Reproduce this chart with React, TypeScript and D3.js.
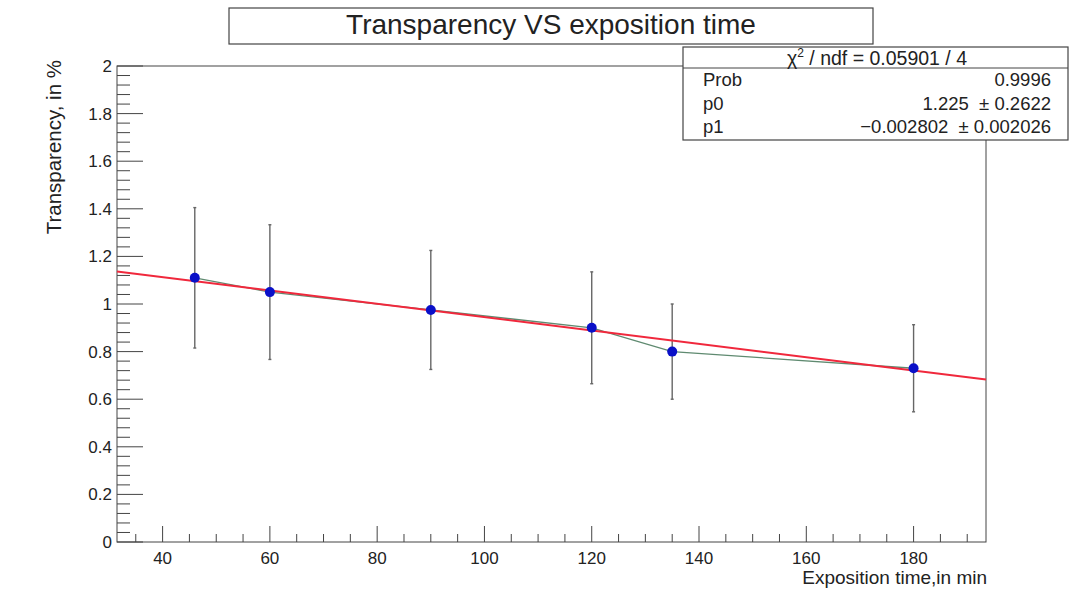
import React from "react";
import * as d3 from "d3";

const W = 1091;
const H = 598;

const expTime = [46, 60, 90, 120, 135, 180];
const transparency = [1.11, 1.05, 0.975, 0.9, 0.8, 0.73];
const transErr = [0.295, 0.283, 0.25, 0.235, 0.2, 0.183];

const xMajorTicks = [40, 60, 80, 100, 120, 140, 160, 180];
const yMajorTicks = [0, 0.2, 0.4, 0.6, 0.8, 1, 1.2, 1.4, 1.6, 1.8, 2];

const fitP0 = 1.225;
const fitP1 = -0.002802;

const titleText = "Transparency VS exposition time";
const xTitle = "Exposition time,in min";
const yTitle = "Transparency, in %";

const statRows = [
  { name: "Prob", value: "0.9996" },
  { name: "p0", value: "1.225  \u00b1 0.2622" },
  { name: "p1", value: "\u22120.002802  \u00b1 0.002026" },
];

const FONT = "'Liberation Sans', Arial, Helvetica, sans-serif";

export default function App() {
  const left = 117, right = 986, top = 66, bottom = 542;
  const x = d3.scaleLinear().domain([31.5, 193.5]).range([left, right]);
  const y = d3.scaleLinear().domain([0, 2]).range([bottom, top]);

  const xMinor = d3.range(35, 193.5, 5).filter((v) => v % 20 !== 0);
  const yMinor = d3.range(0, 2.0001, 0.04).filter((v) => Math.abs(Math.round(v / 0.2) * 0.2 - v) > 1e-6);

  const pts = expTime.map((t, i) => ({ t, v: transparency[i], e: transErr[i] }));
  const line = d3.line<{ t: number; v: number }>().x((d) => x(d.t)).y((d) => y(d.v));
  const dom = x.domain();
  const fitPts = dom.map((t) => ({ t, v: fitP0 + fitP1 * t }));

  const axisColor = "#444";
  const textColor = "#222";

  const sbL = 683, sbR = 1068, sbT = 47, sbB = 140, sbSep = 68;

  return (
    <svg width={W} height={H} style={{ position: "absolute", left: 0, top: 0, background: "#fff" }} fontFamily={FONT}>
      <rect x={0} y={0} width={W} height={H} fill="#fff" />
      <rect x={left} y={top} width={right - left} height={bottom - top} fill="none" stroke={axisColor} strokeWidth={1} />
      {yMajorTicks.map((v) => (
        <g key={"ym" + v}>
          <line x1={left} x2={left + 26} y1={y(v)} y2={y(v)} stroke={axisColor} strokeWidth={1} />
          <text x={112} y={y(v)} dy="0.35em" textAnchor="end" fontSize={17} fill={textColor}>
            {String(v)}
          </text>
        </g>
      ))}
      {yMinor.map((v, i) => (
        <line key={"yn" + i} x1={left} x2={left + 13} y1={y(v)} y2={y(v)} stroke={axisColor} strokeWidth={1} />
      ))}
      {xMajorTicks.map((v) => (
        <g key={"xm" + v}>
          <line x1={x(v)} x2={x(v)} y1={bottom} y2={bottom - 16} stroke={axisColor} strokeWidth={1} />
          <text x={x(v)} y={564} textAnchor="middle" fontSize={17} fill={textColor}>
            {String(v)}
          </text>
        </g>
      ))}
      {xMinor.map((v, i) => (
        <line key={"xn" + i} x1={x(v)} x2={x(v)} y1={bottom} y2={bottom - 8} stroke={axisColor} strokeWidth={1} />
      ))}
      <text x={987} y={584} textAnchor="end" fontSize={19} fill={textColor}>
        {xTitle}
      </text>
      <text transform="translate(61,60) rotate(-90)" textAnchor="end" fontSize={20.5} fill={textColor}>
        {yTitle}
      </text>
      {pts.map((p, i) => (
        <g key={"e" + i}>
          <line x1={x(p.t)} x2={x(p.t)} y1={y(p.v + p.e)} y2={y(p.v - p.e)} stroke="#666" strokeWidth={1.4} />
          <line x1={x(p.t) - 1.5} x2={x(p.t) + 1.5} y1={y(p.v + p.e)} y2={y(p.v + p.e)} stroke="#666" strokeWidth={1.4} />
          <line x1={x(p.t) - 1.5} x2={x(p.t) + 1.5} y1={y(p.v - p.e)} y2={y(p.v - p.e)} stroke="#666" strokeWidth={1.4} />
        </g>
      ))}
      <path d={line(pts) || ""} fill="none" stroke="#5f8a70" strokeWidth={1.3} />
      <path d={line(fitPts) || ""} fill="none" stroke="#f0283c" strokeWidth={2} />
      {pts.map((p, i) => (
        <circle key={"m" + i} cx={x(p.t)} cy={y(p.v)} r={5} fill="#0a10c8" />
      ))}
      <rect x={229} y={8} width={873 - 229} height={44 - 8} fill="#fff" stroke={axisColor} strokeWidth={1.2} />
      <text x={(229 + 873) / 2} y={34} textAnchor="middle" fontSize={28} fill={textColor}>
        {titleText}
      </text>
      <rect x={sbL} y={sbT} width={sbR - sbL} height={sbB - sbT} fill="#fff" stroke={axisColor} strokeWidth={1.2} />
      <line x1={sbL} x2={sbR} y1={sbSep} y2={sbSep} stroke={axisColor} strokeWidth={1} />
      <text x={877} y={65} textAnchor="middle" fontSize={19.5} fill={textColor}>
        {"\u03c7"}
        <tspan fontSize={12} dy={-8}>2</tspan>
        <tspan dy={8}>{" / ndf = 0.05901 / 4"}</tspan>
      </text>
      {statRows.map((r, i) => (
        <g key={"s" + i}>
          <text x={703} y={86 + i * 23.7} fontSize={18.5} fill={textColor}>
            {r.name}
          </text>
          <text x={1051} y={86 + i * 23.7} textAnchor="end" fontSize={18.5} fill={textColor} style={{ whiteSpace: "pre" }}>
            {r.value}
          </text>
        </g>
      ))}
    </svg>
  );
}
